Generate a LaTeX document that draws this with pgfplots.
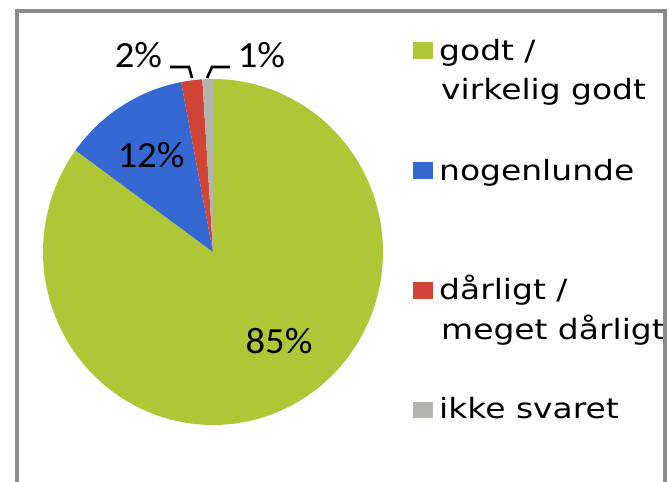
\documentclass[border=0pt]{standalone}
\usepackage{pgfplots}
\usepackage{pgfplotstable}
\pgfplotsset{compat=1.18}
\usepackage{fontspec}
\setmainfont{Carlito}
\newfontfamily\legfont{DejaVu Sans}
\definecolor{cgreen}{RGB}{175,199,55}
\definecolor{cblue}{RGB}{54,104,212}
\definecolor{cred}{RGB}{208,69,53}
\definecolor{cgray}{RGB}{180,180,172}
\definecolor{cframe}{RGB}{138,138,138}

\pgfplotstableread{
label value
godt 85
nogenlunde 12
darligt 2
ikke 1
}\piedata

\begin{document}
\begin{tikzpicture}
\pgfplotstablegetelem{0}{value}\of\piedata \let\vA\pgfplotsretval
\pgfplotstablegetelem{1}{value}\of\piedata \let\vB\pgfplotsretval
\pgfplotstablegetelem{2}{value}\of\piedata \let\vC\pgfplotsretval
\pgfplotstablegetelem{3}{value}\of\piedata \let\vD\pgfplotsretval
% angles, clockwise from top (90 deg)
\pgfmathsetmacro{\aO}{90}
\pgfmathsetmacro{\aA}{90-3.6*\vA}
\pgfmathsetmacro{\aB}{\aA-3.6*\vB}
\pgfmathsetmacro{\aC}{\aB-3.6*\vC}
\pgfmathsetmacro{\aD}{\aC-3.6*\vD}
\def\cx{213}\def\cy{252}\def\rx{170}\def\ry{173}
\begin{axis}[
  width=669bp, height=482bp, scale only axis,
  xmin=0, xmax=669, ymin=0, ymax=482, y dir=reverse,
  axis lines=none, clip=false,
]
\addplot[draw=none, fill=cgreen, domain=\aA:\aO, samples=120, variable=\t]
  ({\cx+\rx*cos(\t)}, {\cy-\ry*sin(\t)}) -- (axis cs:\cx,\cy) -- cycle;
\addplot[draw=none, fill=cblue, domain=\aB:\aA, samples=30, variable=\t]
  ({\cx+\rx*cos(\t)}, {\cy-\ry*sin(\t)}) -- (axis cs:\cx,\cy) -- cycle;
\addplot[draw=none, fill=cred, domain=\aC:\aB, samples=10, variable=\t]
  ({\cx+\rx*cos(\t)}, {\cy-\ry*sin(\t)}) -- (axis cs:\cx,\cy) -- cycle;
\addplot[draw=none, fill=cgray, domain=\aD:\aC, samples=6, variable=\t]
  ({\cx+\rx*cos(\t)}, {\cy-\ry*sin(\t)}) -- (axis cs:\cx,\cy) -- cycle;

% leader lines
\addplot[black, line width=2.6bp] coordinates {(170,67) (189,67) (192,78)};
\addplot[black, line width=2.6bp] coordinates {(230,67) (212,67) (207,78)};

% data labels
\node[font=\fontsize{37}{40}\selectfont] at (axis cs:279,341) {\scalebox{1.05}[1]{85\%}};
\node[font=\fontsize{37}{40}\selectfont] at (axis cs:151,155) {\scalebox{1.05}[1]{12\%}};
\node[font=\fontsize{37}{40}\selectfont] at (axis cs:138.5,55) {\scalebox{1.05}[1]{2\%}};
\node[font=\fontsize{37}{40}\selectfont] at (axis cs:261.5,55) {\scalebox{1.05}[1]{1\%}};

% legend keys
\addplot[draw=none, fill=cgreen] coordinates {(413,42) (433,42) (433,59) (413,59)} -- cycle;
\addplot[draw=none, fill=cblue] coordinates {(413,162) (433,162) (433,179) (413,179)} -- cycle;
\addplot[draw=none, fill=cred] coordinates {(413,282) (433,282) (433,299) (413,299)} -- cycle;
\addplot[draw=none, fill=cgray] coordinates {(413,402) (433,402) (433,418) (413,418)} -- cycle;

% legend texts
\begin{scope}[every node/.style={anchor=base west, inner sep=0pt, font=\legfont\fontsize{28}{34}\selectfont}]
\node at (axis cs:439,61) {\scalebox{1.18}[1]{godt /}};
\node at (axis cs:441,99) {\scalebox{1.18}[1]{virkelig godt}};
\node at (axis cs:439,180) {\scalebox{1.18}[1]{nogenlunde}};
\node at (axis cs:439,299) {\scalebox{1.18}[1]{dårligt /}};
\node at (axis cs:441,339) {\scalebox{1.18}[1]{meget dårligt}};
\node at (axis cs:439,418) {\scalebox{1.18}[1]{ikke svaret}};
\end{scope}

% frame
\addplot[cframe, line width=4bp] coordinates {(17,482) (17,11) (665,11) (665,482)};
\end{axis}
\pgfresetboundingbox
\path (current axis.south west) rectangle (current axis.north east);
\end{tikzpicture}
\end{document}
